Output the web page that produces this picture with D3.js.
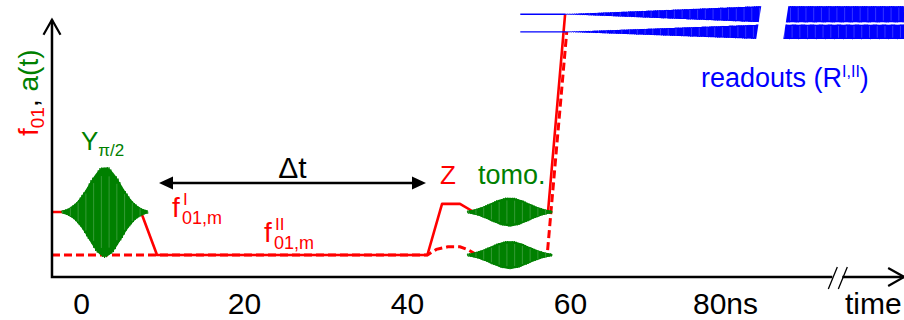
<!DOCTYPE html>
<html><head><meta charset="utf-8">
<script src="https://cdn.jsdelivr.net/npm/d3@7"></script>
<style>body{margin:0;background:#fff} svg{display:block} text{font-family:"Liberation Sans",Arial,sans-serif}</style>
</head><body><svg id="c" width="904" height="320"></svg>
<script>
// ---- data ----
const tickValues = [0, 20, 40, 60, 80];
const tickLabels = ["0", "20", "40", "60", "80ns"];
const axisT = [-3.56, 101];          // time extent of x axis (ns)
const axisF = [-0.51, 5.47];         // level extent of y axis
const axisBreakT = 92.8;
// f01 trajectory, case I (solid) and case II (dashed): time (ns) / level
const solidT  = [-3.56, 7.36, 9.33, 42.5, 44.3, 46.5, 48.2, 57.3, 59.4];
const solidF  = [1, 1, 0, 0, 1.19, 1.19, 1, 1, 5.6];
const dashedT = [-3.56, 42.5, 43.6, 45.0, 46.5, 47.5, 48.6, 57.2, 59.6];
const dashedF = [0, 0, 0.13, 0.19, 0.19, 0.12, 0, 0, 5.19];
// microwave pulses a(t)
const pulseT     = [2.94, 52.6, 52.6];
const pulseLevel = [1, 1, 0];
const pulseAmp   = [1.07, 0.34, 0.33];
const pulseSigma = [2.0, 2.35, 2.35];
const pulseHalf  = [5.3, 5.2, 5.2];
// readouts
const readoutLevel = [5.6, 5.19];
const readoutStartT = 53.9;
const readoutOnT = [59.4, 59.6];
const readoutFullT = 83.3;
const readoutAmp = [0.19, 0.17];
const readoutGapT = [83.4, 86.6];
const deltaT = [9.57, 42.33];

// ---- scales ----
const RED = "#ff0000", GREEN = "#008000", BLUE = "#0000ff";
const svg = d3.select("#c");
const x = d3.scaleLinear().domain([0, 60]).range([81, 570]);
const y = d3.scaleLinear().domain([0, 1]).range([255, 212]);
const x0 = x(axisT[0]), y0 = y(axisF[0]);

// ---- f01 lines ----
const line = d3.line().x(d => x(d[0])).y(d => y(d[1]));
svg.append("path").datum(dashedT.map((t, i) => [t, dashedF[i]]))
  .attr("d", line).attr("fill", "none").attr("stroke", RED)
  .attr("stroke-width", 3).attr("stroke-dasharray", "8,4");
svg.append("path").datum(solidT.map((t, i) => [t, solidF[i]]))
  .attr("d", line).attr("fill", "none").attr("stroke", RED)
  .attr("stroke-width", 2.6).attr("stroke-linejoin", "round");

// ---- oscillating envelope helper ----
function burst(a, b, level, envFn, period, color) {
  const env = [], osc = [];
  for (let px = a; px <= b; px += 0.25) {
    const e = envFn(x.invert(px));
    env.push([px, e]);
    osc.push([px, y(level + e * Math.sin(2 * Math.PI * (px - a) / period))]);
  }
  svg.append("path").datum(env)
    .attr("d", d3.area().x(d => d[0]).y0(d => y(level - d[1] * 0.97)).y1(d => y(level + d[1] * 0.97)))
    .attr("fill", color);
  svg.append("path").attr("d", d3.line()(osc)).attr("fill", "none")
    .attr("stroke", color).attr("stroke-width", 1);
  const streaks = [];
  for (let px = a + period * 0.5; px <= b; px += period * 4.3) {
    const e = envFn(x.invert(px));
    if (e > 0.02) streaks.push([px, e]);
  }
  svg.append("g").selectAll("line").data(streaks).join("line")
    .attr("x1", d => d[0]).attr("x2", d => d[0])
    .attr("y1", d => y(level + d[1] * 0.8)).attr("y2", d => y(level - d[1] * 0.8))
    .attr("stroke", "#fff").attr("stroke-opacity", 0.35).attr("stroke-width", 0.6);
}

// ---- pulses ----
pulseT.forEach((tc, i) => {
  const a = x(tc - pulseHalf[i]), b = x(tc + pulseHalf[i]);
  svg.append("line").attr("x1", a).attr("x2", b)
    .attr("y1", y(pulseLevel[i])).attr("y2", y(pulseLevel[i]))
    .attr("stroke", GREEN).attr("stroke-width", 1.6);
  burst(a, b, pulseLevel[i],
    t => pulseAmp[i] * Math.exp(-((t - tc) ** 2) / (2 * pulseSigma[i] ** 2)), 1.8, GREEN);
});

// ---- readouts ----
readoutLevel.forEach((lv, i) => {
  svg.append("line").attr("x1", x(readoutStartT)).attr("x2", x(readoutOnT[i]))
    .attr("y1", y(lv)).attr("y2", y(lv)).attr("stroke", BLUE).attr("stroke-width", 1.4);
  burst(x(readoutOnT[i]), 904, lv,
    t => readoutAmp[i] * Math.max(0.01, Math.min(1, (t - readoutOnT[i]) / (readoutFullT - readoutOnT[i]))), 1.8, BLUE);
});
// slanted gap in readouts
{
  const g0 = x(readoutGapT[0]), g1 = x(readoutGapT[1]);
  const top = y(readoutLevel[0] + readoutAmp[0]) - 3, bot = y(readoutLevel[1] - readoutAmp[1]) + 3;
  svg.append("polygon")
    .attr("points", [[g0 + 1, top], [g1 + 2, top], [g1 - 4, bot], [g0 - 5, bot]].map(p => p.join(",")).join(" "))
    .attr("fill", "#fff");
}

// ---- axes ----
const ax = svg.append("g").attr("stroke", "#000").attr("stroke-width", 2.5).attr("fill", "none");
const xb = x(axisBreakT), xEnd = x(axisT[1]), yTop = y(axisF[1]);
ax.append("path").attr("d", `M${x0},${yTop} L${x0},${y0} L${xb - 5},${y0} M${xb + 5},${y0} L${xEnd},${y0}`);
ax.append("path").attr("d", `M${x0 - 8.5},${yTop + 15} L${x0},${yTop} L${x0 + 8.5},${yTop + 15}`).attr("stroke-width", 2.2);
ax.append("path").attr("d", `M${xEnd - 16},${y0 - 9} L${xEnd},${y0} L${xEnd - 16},${y0 + 9}`).attr("stroke-width", 2.2);
ax.append("path").attr("d", `M${xb - 9},${y0 + 12} L${xb},${y0 - 10} M${xb + 1},${y0 + 12} L${xb + 10},${y0 - 10}`).attr("stroke-width", 1.3);

const xAxis = d3.axisBottom(x).tickValues(tickValues).tickSize(0)
  .tickFormat((d, i) => tickLabels[i]);
const gx = svg.append("g").attr("transform", `translate(0,${y0})`).call(xAxis);
gx.select(".domain").remove();
gx.selectAll("text").attr("y", 37).attr("dy", 0).attr("font-size", 30)
  .attr("font-family", "Liberation Sans, Arial, sans-serif").attr("fill", "#000")
  .attr("dx", (d, i) => i === tickLabels.length - 1 ? -8 : 0);
svg.append("text").attr("x", 845).attr("y", 314).attr("font-size", 30).text("time");

// ---- Δt arrow ----
{
  const a = x(deltaT[0]), b = x(deltaT[1]), ya = 183;
  svg.append("line").attr("x1", a + 8).attr("x2", b - 8).attr("y1", ya).attr("y2", ya)
    .attr("stroke", "#000").attr("stroke-width", 2.5);
  svg.append("path").attr("d", `M${a},${ya} L${a + 14},${ya - 6.5} L${a + 14},${ya + 6.5}Z`).attr("fill", "#000");
  svg.append("path").attr("d", `M${b},${ya} L${b - 14},${ya - 6.5} L${b - 14},${ya + 6.5}Z`).attr("fill", "#000");
  svg.append("text").attr("x", (a + b) / 2).attr("y", 178).attr("text-anchor", "middle")
    .attr("font-size", 30).text("Δt");
}

// ---- labels ----
const yl = svg.append("text").attr("transform", "translate(38,136) rotate(-90)")
  .attr("text-anchor", "start").attr("font-size", 28);
yl.append("tspan").attr("fill", RED).text("f");
yl.append("tspan").attr("fill", RED).attr("font-size", 19).attr("dy", 6).text("01");
yl.append("tspan").attr("fill", "#000").attr("dy", -6).text(", ");
yl.append("tspan").attr("fill", GREEN).text("a(t)");

const yp = svg.append("text").attr("x", 81).attr("y", 150).attr("font-size", 26).attr("fill", GREEN);
yp.append("tspan").text("Y");
yp.append("tspan").attr("font-size", 17).attr("dy", 6).text("π/2");

svg.append("text").attr("x", 440).attr("y", 184).attr("font-size", 26).attr("fill", RED).text("Z");
svg.append("text").attr("x", 478).attr("y", 184).attr("font-size", 27).attr("fill", GREEN).text("tomo.");

function fLabel(xf, yf, sup) {
  svg.append("text").attr("x", xf).attr("y", yf).attr("font-size", 28).attr("fill", RED).text("f");
  svg.append("text").attr("x", xf + 11).attr("y", yf - 12).attr("font-size", 17).attr("fill", RED).text(sup);
  svg.append("text").attr("x", xf + 10).attr("y", yf + 7).attr("font-size", 18).attr("fill", RED).text("01,m");
}
fLabel(172, 217, "I");
fLabel(264, 242, "II");

const ro = svg.append("text").attr("x", 701).attr("y", 87).attr("font-size", 27).attr("fill", BLUE);
ro.append("tspan").text("readouts (R");
ro.append("tspan").attr("font-size", 16).attr("dy", -10).text("I,II");
ro.append("tspan").attr("dy", 10).text(")");
</script></body></html>
